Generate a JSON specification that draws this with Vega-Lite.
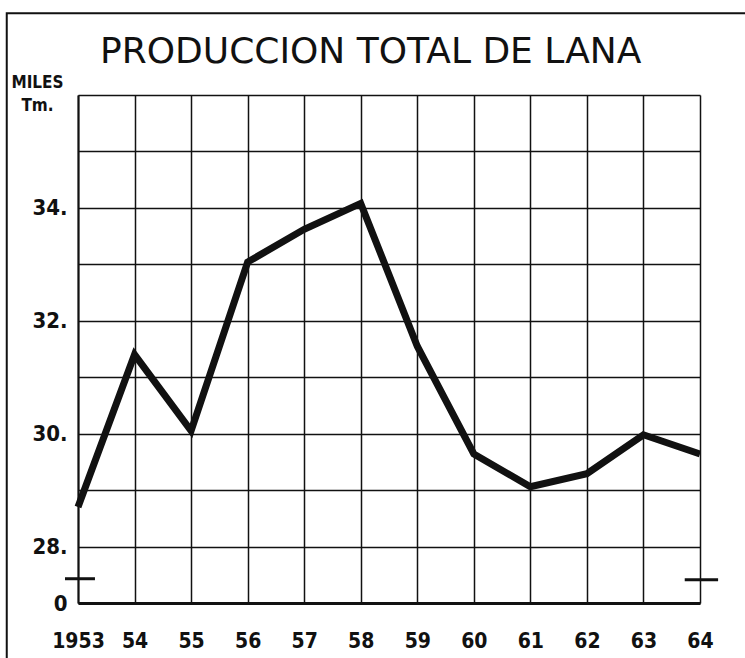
{
  "$schema": "https://vega.github.io/schema/vega-lite/v6.json",
  "width": 622,
  "height": 508,
  "autosize": {"type": "none"},
  "padding": {"left": 78, "top": 95, "right": 45, "bottom": 55},
  "background": "white",
  "title": {
    "text": "PRODUCCION TOTAL DE LANA",
    "anchor": "start",
    "frame": "group",
    "dx": 22,
    "offset": -87,
    "baseline": "alphabetic",
    "font": "DejaVu Sans",
    "fontSize": 36,
    "fontWeight": "normal",
    "color": "#111"
  },
  "config": {"view": {"stroke": null}},
  "datasets": {
    "wool": [
      {"year": 1953, "value": 28.7},
      {"year": 1954, "value": 31.4},
      {"year": 1955, "value": 30.05},
      {"year": 1956, "value": 33.04},
      {"year": 1957, "value": 33.62},
      {"year": 1958, "value": 34.08},
      {"year": 1959, "value": 31.55},
      {"year": 1960, "value": 29.64},
      {"year": 1961, "value": 29.06},
      {"year": 1962, "value": 29.29},
      {"year": 1963, "value": 29.98},
      {"year": 1964, "value": 29.64}
    ],
    "breaks": [
      {"from": 1952.77, "to": 1953.3, "level": 27.43},
      {"from": 1963.73, "to": 1964.32, "level": 27.41}
    ]
  },
  "layer": [
    {
      "data": {"name": "wool"},
      "mark": {"type": "line", "color": "#111", "strokeWidth": 7},
      "encoding": {
        "x": {
          "field": "year",
          "type": "quantitative",
          "scale": {"domain": [1953, 1964], "nice": false, "zero": false},
          "axis": {
            "values": [1953, 1954, 1955, 1956, 1957, 1958, 1959, 1960, 1961, 1962, 1963, 1964],
            "format": "d",
            "labelExpr": "datum.value == 1953 ? '1953' : substring(datum.label, 2)",
            "title": null,
            "ticks": false,
            "grid": true,
            "gridColor": "#111",
            "gridWidth": 1.5,
            "gridOpacity": 1,
            "domainColor": "#111",
            "domainWidth": 3,
            "labelFont": "DejaVu Sans Condensed",
            "labelFontWeight": "bold",
            "labelFontSize": 21,
            "labelColor": "#111",
            "labelPadding": 27,
            "labelFlush": false,
            "labelOverlap": false
          }
        },
        "y": {
          "field": "value",
          "type": "quantitative",
          "scale": {"domain": [27, 36], "nice": false, "zero": false},
          "axis": {
            "values": [27, 28, 29, 30, 31, 32, 33, 34, 35, 36],
            "labelExpr": "datum.value == 27 ? '0' : (datum.value % 2 == 0 && datum.value < 36 ? datum.value + '.' : '')",
            "title": ["MILES", "Tm."],
            "titleAngle": 0,
            "titleX": -41,
            "titleY": -8,
            "titleAlign": "center",
            "titleBaseline": "alphabetic",
            "titleFont": "DejaVu Sans Condensed",
            "titleFontWeight": "bold",
            "titleFontSize": 17,
            "titleLineHeight": 23,
            "titleColor": "#111",
            "ticks": false,
            "grid": true,
            "gridColor": "#111",
            "gridWidth": 1.5,
            "gridOpacity": 1,
            "domainColor": "#111",
            "domainWidth": 2,
            "labelFont": "DejaVu Sans Condensed",
            "labelFontWeight": "bold",
            "labelFontSize": 22,
            "labelColor": "#111",
            "labelPadding": 11,
            "labelFlush": false,
            "labelOverlap": false
          }
        }
      }
    },
    {
      "data": {"name": "breaks"},
      "mark": {"type": "rule", "color": "#111", "strokeWidth": 3, "clip": false},
      "encoding": {
        "x": {"field": "from", "type": "quantitative"},
        "x2": {"field": "to"},
        "y": {"field": "level", "type": "quantitative"}
      }
    },
    {
      "data": {"values": [{}]},
      "mark": {"type": "rect", "fill": "transparent", "stroke": "#111", "strokeWidth": 2, "clip": false},
      "encoding": {
        "x": {"datum": 1951.74, "type": "quantitative"},
        "x2": {"datum": 1965.5},
        "y": {"datum": 37.45, "type": "quantitative"},
        "y2": {"datum": 25.5}
      }
    }
  ]
}
